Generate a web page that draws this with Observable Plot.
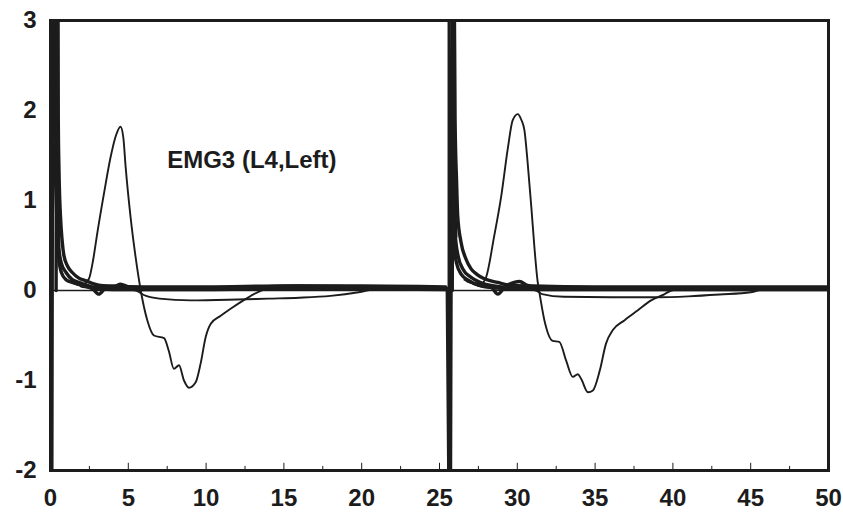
<!DOCTYPE html>
<html>
<head>
<meta charset="utf-8">
<script src="https://cdn.jsdelivr.net/npm/d3@7"></script>
<script src="https://cdn.jsdelivr.net/npm/@observablehq/plot@0.6"></script>
<style>
  html, body { margin: 0; padding: 0; background: #ffffff; }
  #chart { width: 843px; height: 516px; }
</style>
</head>
<body>
<div id="chart"></div>
<script>
// ---- tick labels ----
const xTickLabels = [0, 5, 10, 15, 20, 25, 30, 35, 40, 45, 50];
const yTickLabels = [-2, -1, 0, 1, 2, 3];
const xMajorTicks = [5, 10, 15, 20, 25, 30, 35, 40, 45];
const xMinorTicks = [2.5, 7.5, 12.5, 17.5, 22.5, 27.5, 32.5, 37.5, 42.5, 47.5];
const trialStart2 = 25.6;
const annotation = "EMG3 (L4,Left)";

// ---- trial 1 traces [x, y] ----
const phasic1 = [[1.0,0.12],[1.6,0.08],[2.1,0.07],[2.47,0.13],[2.75,0.35],[3.0,0.63],[3.43,1.07],[3.86,1.48],[4.2,1.72],[4.5,1.82],[4.68,1.7],[4.83,1.37],[5.15,0.81],[5.47,0.37],[5.8,0.0],[6.22,-0.33],[6.65,-0.5],[7.3,-0.53],[7.6,-0.67],[7.93,-0.87],[8.26,-0.83],[8.58,-1.0],[8.9,-1.08],[9.33,-1.02],[9.65,-0.81],[9.97,-0.52],[10.3,-0.37],[10.94,-0.28],[11.6,-0.2],[12.4,-0.11],[13.3,-0.02],[14.0,0.02],[18,0.03],[25.4,0.04]];
const lower1 = [[1.2,0.1],[2.0,0.05],[3.5,0.02],[5.0,0.01],[5.5,0.0],[6.0,-0.05],[7.0,-0.09],[9.0,-0.11],[12.0,-0.1],[14.0,-0.09],[16.0,-0.08],[18.0,-0.06],[19.8,-0.02],[21.0,0.02],[25.4,0.03]];
const spike1 = [[0.02,0.0],[0.08,-2.5],[0.15,3.5],[0.3,3.5],[0.34,1.8],[0.4,1.1],[0.45,0.7]];
const outer1 = [[0.36,0.0],[0.42,3.5],[0.48,3.5],[0.5,1.9],[0.55,1.3],[0.64,0.83],[0.75,0.55],[0.86,0.39],[1.1,0.27],[1.4,0.2],[1.8,0.14],[2.25,0.11],[3.1,0.06],[4,0.05],[6,0.04],[10,0.04],[15,0.05],[20,0.05],[25.4,0.04]];
const mid1 = [[0.3,1.9],[0.4,1.4],[0.48,0.9],[0.54,0.47],[0.7,0.3],[1.0,0.2],[1.4,0.12],[2,0.08],[3,0.03],[5,0.02],[10,0.02],[15,0.03],[20,0.03],[25.4,0.02]];
const inner1 = [[0.25,1.6],[0.35,1.1],[0.45,0.6],[0.55,0.33],[0.7,0.2],[1.0,0.12],[1.4,0.09],[2,0.06],[3,0.02],[5,0.01],[10,0.01],[15,0.02],[25.4,0.01]];
const dip1 = [[2.0,0.05],[2.7,0.02],[3.1,-0.04],[3.5,0.02],[4.2,0.05],[4.5,0.07],[5.0,0.04],[6,0.02],[8,0.02],[12,0.03],[16,0.05],[20,0.04],[25.4,0.03]];

// ---- trial 2 traces [x, y] ----
const phasic2 = [[26.6,0.12],[27.2,0.08],[27.7,0.08],[28.0,0.15],[28.5,0.59],[28.96,1.04],[29.4,1.59],[29.7,1.89],[30.03,1.96],[30.25,1.9],[30.46,1.78],[30.67,1.41],[30.9,0.93],[31.1,0.48],[31.3,0.11],[31.4,0.0],[31.74,-0.33],[32.28,-0.56],[32.7,-0.57],[33.14,-0.78],[33.57,-0.96],[33.89,-0.93],[34.1,-0.98],[34.54,-1.13],[34.86,-1.11],[35.3,-0.89],[35.7,-0.59],[36.14,-0.44],[36.9,-0.33],[37.75,-0.22],[38.6,-0.11],[39.47,-0.04],[39.9,0.0],[41,0.03],[50,0.04]];
const lower2 = [[26.8,0.1],[27.6,0.05],[29,0.02],[30.8,0.01],[31.2,0.0],[31.6,-0.04],[33,-0.07],[36,-0.075],[39,-0.075],[41,-0.065],[43,-0.045],[45,-0.02],[46,0.02],[50,0.03]];
const spike2 = [[25.5,0.02],[25.62,-2.5],[25.7,-2.5],[25.8,3.5],[25.86,3.5],[25.9,1.7],[25.96,1.0],[26.05,0.6]];
const outer2 = [[25.82,0.0],[25.88,3.5],[25.94,3.5],[26.0,1.9],[26.1,1.2],[26.17,0.83],[26.38,0.54],[26.7,0.35],[27.03,0.24],[27.4,0.18],[27.88,0.13],[28.74,0.09],[29.5,0.06],[31,0.05],[35,0.04],[40,0.04],[45,0.04],[50,0.04]];
const mid2 = [[25.8,1.7],[25.9,1.1],[26.0,0.65],[26.2,0.38],[26.5,0.24],[27,0.15],[27.6,0.09],[28.5,0.05],[30,0.03],[35,0.02],[40,0.03],[50,0.02]];
const inner2 = [[25.75,1.4],[25.85,0.9],[25.95,0.5],[26.1,0.3],[26.4,0.18],[26.9,0.11],[27.5,0.06],[28.5,0.03],[32,0.01],[40,0.01],[50,0.01]];
const dip2 = [[27.5,0.06],[28.3,0.04],[28.75,-0.04],[29.2,0.04],[29.8,0.09],[30.15,0.1],[30.6,0.06],[31.5,0.03],[35,0.02],[40,0.03],[50,0.03]];

const ink = "#1c1c1c";
const X = d => d[0], Y = d => d[1];
const thick = (data, curve = "monotone-x") => Plot.line(data, {x: X, y: Y, stroke: ink, strokeWidth: 3.4, curve, clip: true});
const thin = (data) => Plot.line(data, {x: X, y: Y, stroke: ink, strokeWidth: 1.9, curve: "monotone-x", clip: true});

const chart = Plot.plot({
  width: 843,
  height: 516,
  marginLeft: 50,
  marginRight: 15,
  marginTop: 20,
  marginBottom: 46,
  style: {background: "#ffffff", color: ink, fontFamily: "'Liberation Sans', Arial, sans-serif", fontWeight: "bold", fontSize: "24px"},
  x: {domain: [0, 50]},
  y: {domain: [-2, 3]},
  marks: [
    Plot.axisX(xTickLabels, {tickSize: 0, tickPadding: 18, label: null, fontSize: 24, fontWeight: "bold", tickFormat: d => String(d)}),
    Plot.axisY(yTickLabels, {tickSize: 0, tickPadding: 14, label: null, fontSize: 24, fontWeight: "bold", tickFormat: d => String(d)}),
    Plot.ruleX(xMajorTicks, {y1: -2, y2: -1.92, stroke: ink, strokeWidth: 1}),
    Plot.ruleX(xMinorTicks, {y1: -2, y2: -1.955, stroke: ink, strokeWidth: 1}),
    Plot.ruleY([0], {stroke: ink, strokeWidth: 1.6}),
    Plot.ruleX([trialStart2], {stroke: ink, strokeWidth: 2.6}),
    thin(phasic1), thin(lower1),
    thin(phasic2), thin(lower2),
    thick(spike1, "linear"), thick(outer1), thick(mid1), thick(inner1), thick(dip1),
    thick(spike2, "linear"), thick(outer2), thick(mid2), thick(inner2), thick(dip2),
    Plot.text([annotation], {x: 7.5, y: 1.36, text: d => d, textAnchor: "start", lineAnchor: "bottom", fontSize: 24, fontWeight: "bold", fill: ink}),
    Plot.frame({stroke: ink, strokeWidth: 3})
  ]
});
document.getElementById("chart").appendChild(chart);
</script>
</body>
</html>
